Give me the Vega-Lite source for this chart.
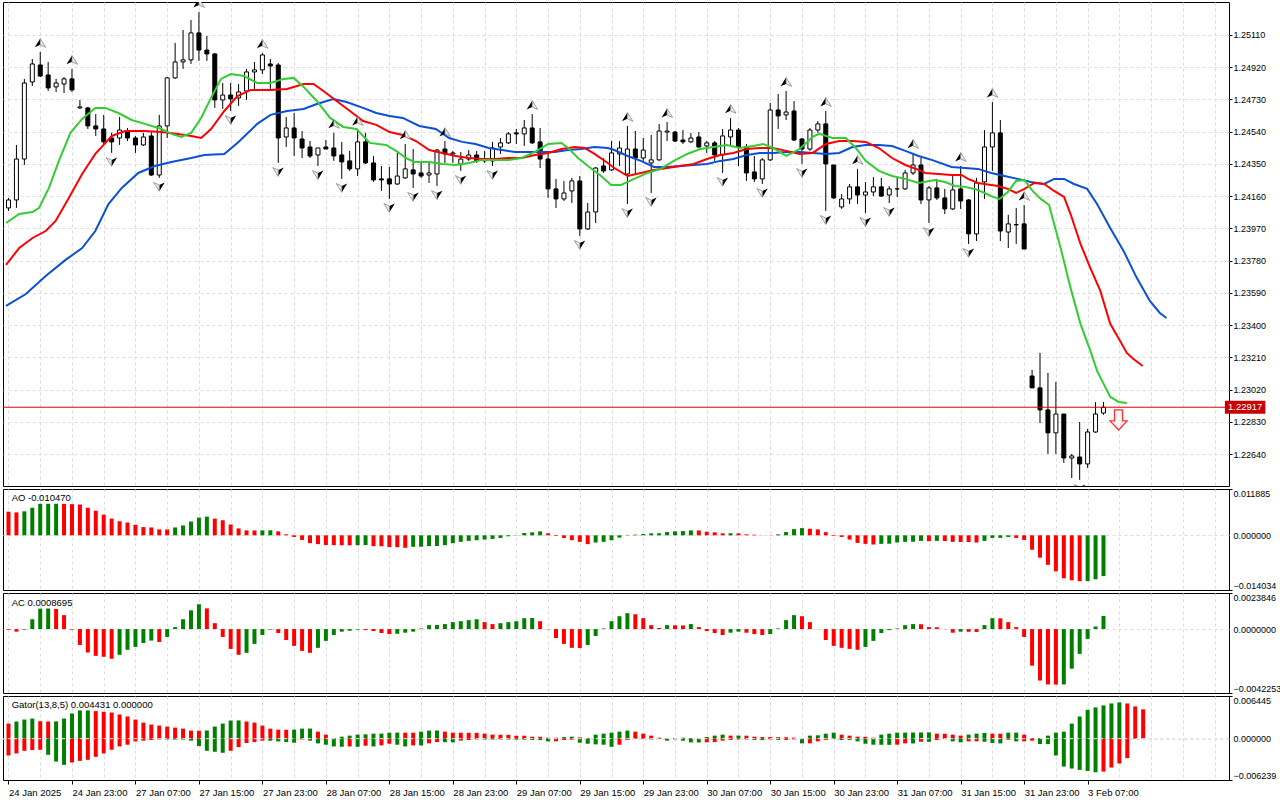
{
  "$schema": "https://vega.github.io/schema/vega-lite/v6.json",
  "background": "#ffffff",
  "padding": {"left": 2, "top": 1, "right": 0, "bottom": 0},
  "spacing": 3,
  "bounds": "flush",
  "resolve": {"scale": {"color": "independent"}},
  "config": {
    "view": {"stroke": "#000000", "strokeWidth": 1},
    "axis": {"labelFont": "Liberation Sans", "labelFontSize": 9, "labelColor": "#000000", "tickColor": "#000000", "tickSize": 3, "labelPadding": 1, "domain": false, "gridColor": "#dcdcdc", "gridDash": [3, 3], "gridWidth": 1, "labelOverlap": false},
    "text": {"font": "Liberation Sans", "fontSize": 9.5}
  },
  "datasets": {
    "candles": [
      {"i":0,"o":1.24091,"h":1.24150,"l":1.24073,"c":1.24138},
      {"i":1,"o":1.24138,"h":1.24462,"l":1.24091,"c":1.24379},
      {"i":2,"o":1.24379,"h":1.24851,"l":1.24344,"c":1.24827},
      {"i":3,"o":1.24833,"h":1.24968,"l":1.24809,"c":1.24939},
      {"i":4,"o":1.24933,"h":1.25010,"l":1.24862,"c":1.24868},
      {"i":5,"o":1.24874,"h":1.24951,"l":1.24780,"c":1.24798},
      {"i":6,"o":1.24804,"h":1.24851,"l":1.24774,"c":1.24827},
      {"i":7,"o":1.24821,"h":1.24862,"l":1.24768,"c":1.24851},
      {"i":8,"o":1.24851,"h":1.24910,"l":1.24774,"c":1.24786},
      {"i":9,"o":1.24680,"h":1.24727,"l":1.24674,"c":1.24686},
      {"i":10,"o":1.24680,"h":1.24686,"l":1.24556,"c":1.24574},
      {"i":11,"o":1.24574,"h":1.24644,"l":1.24515,"c":1.24556},
      {"i":12,"o":1.24556,"h":1.24639,"l":1.24468,"c":1.24480},
      {"i":13,"o":1.24503,"h":1.24533,"l":1.24415,"c":1.24480},
      {"i":14,"o":1.24503,"h":1.24627,"l":1.24462,"c":1.24550},
      {"i":15,"o":1.24544,"h":1.24562,"l":1.24485,"c":1.24503},
      {"i":16,"o":1.24503,"h":1.24515,"l":1.24415,"c":1.24462},
      {"i":17,"o":1.24462,"h":1.24533,"l":1.24456,"c":1.24509},
      {"i":18,"o":1.24515,"h":1.24538,"l":1.24279,"c":1.24285},
      {"i":19,"o":1.24285,"h":1.24639,"l":1.24268,"c":1.24574},
      {"i":20,"o":1.24574,"h":1.24862,"l":1.24503,"c":1.24857},
      {"i":21,"o":1.24857,"h":1.25063,"l":1.24851,"c":1.24951},
      {"i":22,"o":1.24951,"h":1.25139,"l":1.24910,"c":1.24963},
      {"i":23,"o":1.24963,"h":1.25198,"l":1.24939,"c":1.25122},
      {"i":24,"o":1.25122,"h":1.25245,"l":1.24957,"c":1.25021},
      {"i":25,"o":1.25021,"h":1.25104,"l":1.24957,"c":1.24998},
      {"i":26,"o":1.24998,"h":1.25004,"l":1.24680,"c":1.24727},
      {"i":27,"o":1.24727,"h":1.24827,"l":1.24674,"c":1.24756},
      {"i":28,"o":1.24756,"h":1.24827,"l":1.24662,"c":1.24733},
      {"i":29,"o":1.24739,"h":1.24821,"l":1.24692,"c":1.24774},
      {"i":30,"o":1.24780,"h":1.24910,"l":1.24727,"c":1.24892},
      {"i":31,"o":1.24892,"h":1.24951,"l":1.24792,"c":1.24904},
      {"i":32,"o":1.24904,"h":1.25004,"l":1.24880,"c":1.24992},
      {"i":33,"o":1.24939,"h":1.24968,"l":1.24792,"c":1.24927},
      {"i":34,"o":1.24933,"h":1.24945,"l":1.24356,"c":1.24503},
      {"i":35,"o":1.24509,"h":1.24627,"l":1.24450,"c":1.24562},
      {"i":36,"o":1.24562,"h":1.24650,"l":1.24397,"c":1.24503},
      {"i":37,"o":1.24497,"h":1.24544,"l":1.24385,"c":1.24444},
      {"i":38,"o":1.24450,"h":1.24485,"l":1.24385,"c":1.24397},
      {"i":39,"o":1.24403,"h":1.24444,"l":1.24338,"c":1.24444},
      {"i":40,"o":1.24450,"h":1.24491,"l":1.24438,"c":1.24438},
      {"i":41,"o":1.24444,"h":1.24533,"l":1.24368,"c":1.24397},
      {"i":42,"o":1.24403,"h":1.24480,"l":1.24262,"c":1.24362},
      {"i":43,"o":1.24368,"h":1.24427,"l":1.24309,"c":1.24321},
      {"i":44,"o":1.24321,"h":1.24550,"l":1.24279,"c":1.24480},
      {"i":45,"o":1.24480,"h":1.24533,"l":1.24350,"c":1.24356},
      {"i":46,"o":1.24356,"h":1.24397,"l":1.24244,"c":1.24256},
      {"i":47,"o":1.24262,"h":1.24338,"l":1.24191,"c":1.24256},
      {"i":48,"o":1.24262,"h":1.24332,"l":1.24144,"c":1.24232},
      {"i":49,"o":1.24232,"h":1.24415,"l":1.24226,"c":1.24279},
      {"i":50,"o":1.24268,"h":1.24468,"l":1.24262,"c":1.24321},
      {"i":51,"o":1.24315,"h":1.24438,"l":1.24209,"c":1.24291},
      {"i":52,"o":1.24297,"h":1.24368,"l":1.24268,"c":1.24279},
      {"i":53,"o":1.24285,"h":1.24368,"l":1.24238,"c":1.24297},
      {"i":54,"o":1.24291,"h":1.24438,"l":1.24220,"c":1.24432},
      {"i":55,"o":1.24438,"h":1.24485,"l":1.24356,"c":1.24409},
      {"i":56,"o":1.24409,"h":1.24427,"l":1.24356,"c":1.24415},
      {"i":57,"o":1.24350,"h":1.24421,"l":1.24309,"c":1.24379},
      {"i":58,"o":1.24379,"h":1.24432,"l":1.24368,"c":1.24403},
      {"i":59,"o":1.24403,"h":1.24427,"l":1.24356,"c":1.24368},
      {"i":60,"o":1.24368,"h":1.24427,"l":1.24356,"c":1.24379},
      {"i":61,"o":1.24368,"h":1.24480,"l":1.24338,"c":1.24444},
      {"i":62,"o":1.24450,"h":1.24503,"l":1.24409,"c":1.24474},
      {"i":63,"o":1.24474,"h":1.24538,"l":1.24468,"c":1.24527},
      {"i":64,"o":1.24533,"h":1.24556,"l":1.24468,"c":1.24527},
      {"i":65,"o":1.24527,"h":1.24609,"l":1.24456,"c":1.24562},
      {"i":66,"o":1.24562,"h":1.24644,"l":1.24468,"c":1.24474},
      {"i":67,"o":1.24480,"h":1.24562,"l":1.24326,"c":1.24379},
      {"i":68,"o":1.24379,"h":1.24427,"l":1.24150,"c":1.24203},
      {"i":69,"o":1.24203,"h":1.24262,"l":1.24091,"c":1.24144},
      {"i":70,"o":1.24144,"h":1.24250,"l":1.24132,"c":1.24179},
      {"i":71,"o":1.24191,"h":1.24268,"l":1.24120,"c":1.24250},
      {"i":72,"o":1.24250,"h":1.24279,"l":1.23926,"c":1.23967},
      {"i":73,"o":1.23967,"h":1.24120,"l":1.23961,"c":1.24067},
      {"i":74,"o":1.24067,"h":1.24332,"l":1.24002,"c":1.24326},
      {"i":75,"o":1.24338,"h":1.24385,"l":1.24297,"c":1.24309},
      {"i":76,"o":1.24315,"h":1.24485,"l":1.24309,"c":1.24415},
      {"i":77,"o":1.24409,"h":1.24485,"l":1.24338,"c":1.24444},
      {"i":78,"o":1.24291,"h":1.24574,"l":1.24114,"c":1.24438},
      {"i":79,"o":1.24438,"h":1.24544,"l":1.24291,"c":1.24385},
      {"i":80,"o":1.24385,"h":1.24503,"l":1.24368,"c":1.24432},
      {"i":81,"o":1.24356,"h":1.24521,"l":1.24179,"c":1.24374},
      {"i":82,"o":1.24374,"h":1.24586,"l":1.24368,"c":1.24544},
      {"i":83,"o":1.24538,"h":1.24597,"l":1.24485,"c":1.24544},
      {"i":84,"o":1.24538,"h":1.24544,"l":1.24480,"c":1.24485},
      {"i":85,"o":1.24491,"h":1.24550,"l":1.24468,"c":1.24480},
      {"i":86,"o":1.24480,"h":1.24533,"l":1.24474,"c":1.24503},
      {"i":87,"o":1.24509,"h":1.24538,"l":1.24444,"c":1.24450},
      {"i":88,"o":1.24456,"h":1.24485,"l":1.24415,"c":1.24474},
      {"i":89,"o":1.24474,"h":1.24485,"l":1.24368,"c":1.24403},
      {"i":90,"o":1.24403,"h":1.24556,"l":1.24297,"c":1.24515},
      {"i":91,"o":1.24509,"h":1.24621,"l":1.24456,"c":1.24550},
      {"i":92,"o":1.24550,"h":1.24562,"l":1.24338,"c":1.24450},
      {"i":93,"o":1.24450,"h":1.24468,"l":1.24250,"c":1.24297},
      {"i":94,"o":1.24303,"h":1.24397,"l":1.24244,"c":1.24262},
      {"i":95,"o":1.24262,"h":1.24385,"l":1.24232,"c":1.24374},
      {"i":96,"o":1.24374,"h":1.24709,"l":1.24368,"c":1.24668},
      {"i":97,"o":1.24668,"h":1.24762,"l":1.24556,"c":1.24633},
      {"i":98,"o":1.24639,"h":1.24780,"l":1.24609,"c":1.24656},
      {"i":99,"o":1.24662,"h":1.24721,"l":1.24485,"c":1.24491},
      {"i":100,"o":1.24497,"h":1.24503,"l":1.24350,"c":1.24438},
      {"i":101,"o":1.24438,"h":1.24562,"l":1.24427,"c":1.24550},
      {"i":102,"o":1.24550,"h":1.24603,"l":1.24533,"c":1.24586},
      {"i":103,"o":1.24586,"h":1.24662,"l":1.24073,"c":1.24350},
      {"i":104,"o":1.24344,"h":1.24344,"l":1.24144,"c":1.24150},
      {"i":105,"o":1.24097,"h":1.24173,"l":1.24085,"c":1.24144},
      {"i":106,"o":1.24144,"h":1.24232,"l":1.24114,"c":1.24215},
      {"i":107,"o":1.24215,"h":1.24321,"l":1.24114,"c":1.24167},
      {"i":108,"o":1.24167,"h":1.24244,"l":1.24061,"c":1.24185},
      {"i":109,"o":1.24185,"h":1.24273,"l":1.24161,"c":1.24215},
      {"i":110,"o":1.24215,"h":1.24268,"l":1.24156,"c":1.24161},
      {"i":111,"o":1.24167,"h":1.24220,"l":1.24120,"c":1.24203},
      {"i":112,"o":1.24203,"h":1.24268,"l":1.24156,"c":1.24203},
      {"i":113,"o":1.24203,"h":1.24315,"l":1.24197,"c":1.24297},
      {"i":114,"o":1.24297,"h":1.24415,"l":1.24285,"c":1.24344},
      {"i":115,"o":1.24344,"h":1.24385,"l":1.24114,"c":1.24138},
      {"i":116,"o":1.24138,"h":1.24220,"l":1.24002,"c":1.24209},
      {"i":117,"o":1.24209,"h":1.24262,"l":1.24138,"c":1.24150},
      {"i":118,"o":1.24150,"h":1.24203,"l":1.24055,"c":1.24085},
      {"i":119,"o":1.24085,"h":1.24291,"l":1.24079,"c":1.24197},
      {"i":120,"o":1.24203,"h":1.24338,"l":1.24085,"c":1.24132},
      {"i":121,"o":1.24138,"h":1.24144,"l":1.23879,"c":1.23938},
      {"i":122,"o":1.23938,"h":1.24268,"l":1.23896,"c":1.24238},
      {"i":123,"o":1.24244,"h":1.24550,"l":1.24144,"c":1.24450},
      {"i":124,"o":1.24450,"h":1.24715,"l":1.24309,"c":1.24533},
      {"i":125,"o":1.24533,"h":1.24609,"l":1.23896,"c":1.23955},
      {"i":126,"o":1.23949,"h":1.24050,"l":1.23855,"c":1.23997},
      {"i":127,"o":1.23991,"h":1.24091,"l":1.23879,"c":1.23993},
      {"i":128,"o":1.23997,"h":1.24108,"l":1.23849,"c":1.23849},
      {"i":129,"o":1.23101,"h":1.23137,"l":1.23031,"c":1.23031},
      {"i":130,"o":1.23031,"h":1.23237,"l":1.22824,"c":1.22901},
      {"i":131,"o":1.22901,"h":1.23119,"l":1.22642,"c":1.22766},
      {"i":132,"o":1.22766,"h":1.23066,"l":1.22642,"c":1.22877},
      {"i":133,"o":1.22877,"h":1.22877,"l":1.22589,"c":1.22618},
      {"i":134,"o":1.22618,"h":1.22642,"l":1.22500,"c":1.22630},
      {"i":135,"o":1.22624,"h":1.22830,"l":1.22489,"c":1.22583},
      {"i":136,"o":1.22583,"h":1.22789,"l":1.22559,"c":1.22771},
      {"i":137,"o":1.22771,"h":1.22948,"l":1.22766,"c":1.22877},
      {"i":138,"o":1.22883,"h":1.22948,"l":1.22872,"c":1.22917}
    ],
    "alligator": [
      {"s":"jaw","t":-0.31,"p":1.23514},{"s":"jaw","t":2.19,"p":1.23584},{"s":"jaw","t":4.69,"p":1.2369},{"s":"jaw","t":7.19,"p":1.23785},{"s":"jaw","t":9.28,"p":1.23855},{"s":"jaw","t":10.94,"p":1.23955},{"s":"jaw","t":12.6,"p":1.24114},{"s":"jaw","t":14.28,"p":1.24209},{"s":"jaw","t":16.35,"p":1.24297},{"s":"jaw","t":18.44,"p":1.24338},{"s":"jaw","t":20.53,"p":1.24362},{"s":"jaw","t":23.03,"p":1.24385},{"s":"jaw","t":24.69,"p":1.24403},{"s":"jaw","t":27.19,"p":1.24409},{"s":"jaw","t":28.85,"p":1.24474},{"s":"jaw","t":31.35,"p":1.24586},{"s":"jaw","t":33.03,"p":1.24639},{"s":"jaw","t":35.1,"p":1.24662},{"s":"jaw","t":37.19,"p":1.24674},{"s":"jaw","t":38.85,"p":1.24703},{"s":"jaw","t":40.94,"p":1.24733},{"s":"jaw","t":42.6,"p":1.24715},{"s":"jaw","t":44.69,"p":1.2468},{"s":"jaw","t":46.35,"p":1.2465},{"s":"jaw","t":48.03,"p":1.24633},{"s":"jaw","t":49.69,"p":1.24621},{"s":"jaw","t":51.78,"p":1.24574},{"s":"jaw","t":53.85,"p":1.24556},{"s":"jaw","t":55.53,"p":1.24503},{"s":"jaw","t":57.19,"p":1.2448},{"s":"jaw","t":58.85,"p":1.24468},{"s":"jaw","t":60.53,"p":1.24444},{"s":"jaw","t":62.19,"p":1.24432},{"s":"jaw","t":63.85,"p":1.24421},{"s":"jaw","t":65.53,"p":1.24421},{"s":"jaw","t":67.19,"p":1.24421},{"s":"jaw","t":68.85,"p":1.24421},{"s":"jaw","t":70.53,"p":1.24432},{"s":"jaw","t":72.19,"p":1.24438},{"s":"jaw","t":73.85,"p":1.2445},{"s":"jaw","t":75.53,"p":1.24444},{"s":"jaw","t":76.35,"p":1.24432},{"s":"jaw","t":78.03,"p":1.24397},{"s":"jaw","t":79.69,"p":1.24368},{"s":"jaw","t":81.35,"p":1.24332},{"s":"jaw","t":83.03,"p":1.24332},{"s":"jaw","t":84.69,"p":1.24338},{"s":"jaw","t":86.35,"p":1.24344},{"s":"jaw","t":88.03,"p":1.2435},{"s":"jaw","t":89.69,"p":1.24368},{"s":"jaw","t":91.35,"p":1.24379},{"s":"jaw","t":93.03,"p":1.24403},{"s":"jaw","t":94.69,"p":1.24415},{"s":"jaw","t":96.35,"p":1.24415},{"s":"jaw","t":98.03,"p":1.24421},{"s":"jaw","t":99.69,"p":1.24421},{"s":"jaw","t":101.35,"p":1.24415},{"s":"jaw","t":103.03,"p":1.24409},{"s":"jaw","t":104.69,"p":1.24415},{"s":"jaw","t":106.35,"p":1.2445},{"s":"jaw","t":108.03,"p":1.24462},{"s":"jaw","t":109.69,"p":1.24462},{"s":"jaw","t":111.35,"p":1.24456},{"s":"jaw","t":113.03,"p":1.24427},{"s":"jaw","t":114.69,"p":1.24397},{"s":"jaw","t":116.35,"p":1.24374},{"s":"jaw","t":118.85,"p":1.24332},{"s":"jaw","t":120.53,"p":1.24326},{"s":"jaw","t":122.19,"p":1.24321},{"s":"jaw","t":123.85,"p":1.24297},{"s":"jaw","t":125.53,"p":1.24279},{"s":"jaw","t":127.19,"p":1.24262},{"s":"jaw","t":128.85,"p":1.24244},{"s":"jaw","t":130.53,"p":1.24232},{"s":"jaw","t":131.78,"p":1.24262},{"s":"jaw","t":133.03,"p":1.24262},{"s":"jaw","t":134.28,"p":1.24232},{"s":"jaw","t":135.94,"p":1.24203},{"s":"jaw","t":137.19,"p":1.24114},{"s":"jaw","t":138.85,"p":1.23973},{"s":"jaw","t":140.53,"p":1.23838},{"s":"jaw","t":142.19,"p":1.23679},{"s":"jaw","t":143.85,"p":1.23543},{"s":"jaw","t":145.1,"p":1.23472},{"s":"jaw","t":145.94,"p":1.23443},
      {"s":"teeth","t":-0.31,"p":1.23755},{"s":"teeth","t":1.35,"p":1.23855},{"s":"teeth","t":3.03,"p":1.23914},{"s":"teeth","t":4.69,"p":1.23955},{"s":"teeth","t":5.94,"p":1.24014},{"s":"teeth","t":7.6,"p":1.2415},{"s":"teeth","t":9.28,"p":1.24291},{"s":"teeth","t":10.94,"p":1.24409},{"s":"teeth","t":13.03,"p":1.24515},{"s":"teeth","t":14.69,"p":1.24544},{"s":"teeth","t":17.19,"p":1.24544},{"s":"teeth","t":19.28,"p":1.24538},{"s":"teeth","t":21.35,"p":1.24527},{"s":"teeth","t":23.03,"p":1.24515},{"s":"teeth","t":24.28,"p":1.24503},{"s":"teeth","t":25.53,"p":1.24556},{"s":"teeth","t":27.19,"p":1.24662},{"s":"teeth","t":28.85,"p":1.2475},{"s":"teeth","t":30.53,"p":1.24786},{"s":"teeth","t":33.03,"p":1.24786},{"s":"teeth","t":35.1,"p":1.24792},{"s":"teeth","t":37.19,"p":1.24821},{"s":"teeth","t":38.44,"p":1.24821},{"s":"teeth","t":39.69,"p":1.2478},{"s":"teeth","t":41.35,"p":1.24721},{"s":"teeth","t":43.03,"p":1.24662},{"s":"teeth","t":44.69,"p":1.24603},{"s":"teeth","t":46.35,"p":1.2458},{"s":"teeth","t":48.03,"p":1.24538},{"s":"teeth","t":49.69,"p":1.24521},{"s":"teeth","t":51.35,"p":1.24485},{"s":"teeth","t":53.03,"p":1.24432},{"s":"teeth","t":54.69,"p":1.24415},{"s":"teeth","t":56.35,"p":1.24397},{"s":"teeth","t":58.03,"p":1.24385},{"s":"teeth","t":59.69,"p":1.24379},{"s":"teeth","t":61.35,"p":1.24379},{"s":"teeth","t":63.03,"p":1.24385},{"s":"teeth","t":64.69,"p":1.24385},{"s":"teeth","t":66.35,"p":1.24403},{"s":"teeth","t":68.03,"p":1.24415},{"s":"teeth","t":69.69,"p":1.24438},{"s":"teeth","t":71.35,"p":1.2445},{"s":"teeth","t":72.6,"p":1.24444},{"s":"teeth","t":73.85,"p":1.24409},{"s":"teeth","t":75.53,"p":1.24356},{"s":"teeth","t":76.35,"p":1.24326},{"s":"teeth","t":78.03,"p":1.24279},{"s":"teeth","t":79.69,"p":1.24297},{"s":"teeth","t":81.35,"p":1.24315},{"s":"teeth","t":83.03,"p":1.24326},{"s":"teeth","t":84.69,"p":1.24338},{"s":"teeth","t":86.35,"p":1.2435},{"s":"teeth","t":88.03,"p":1.24379},{"s":"teeth","t":89.69,"p":1.24403},{"s":"teeth","t":91.35,"p":1.24415},{"s":"teeth","t":93.03,"p":1.24438},{"s":"teeth","t":94.69,"p":1.24444},{"s":"teeth","t":96.35,"p":1.24444},{"s":"teeth","t":98.03,"p":1.24427},{"s":"teeth","t":99.69,"p":1.24409},{"s":"teeth","t":101.35,"p":1.24415},{"s":"teeth","t":103.03,"p":1.24468},{"s":"teeth","t":104.69,"p":1.24485},{"s":"teeth","t":106.35,"p":1.24485},{"s":"teeth","t":108.03,"p":1.2448},{"s":"teeth","t":109.69,"p":1.24444},{"s":"teeth","t":111.35,"p":1.24385},{"s":"teeth","t":113.03,"p":1.24344},{"s":"teeth","t":114.69,"p":1.24315},{"s":"teeth","t":115.53,"p":1.24297},{"s":"teeth","t":117.19,"p":1.24291},{"s":"teeth","t":118.85,"p":1.24285},{"s":"teeth","t":120.1,"p":1.24285},{"s":"teeth","t":120.94,"p":1.24262},{"s":"teeth","t":122.19,"p":1.24238},{"s":"teeth","t":123.85,"p":1.24226},{"s":"teeth","t":124.69,"p":1.2422},{"s":"teeth","t":125.94,"p":1.24203},{"s":"teeth","t":126.98,"p":1.24179},{"s":"teeth","t":128.03,"p":1.24203},{"s":"teeth","t":129.28,"p":1.24238},{"s":"teeth","t":130.53,"p":1.24232},{"s":"teeth","t":131.78,"p":1.24191},{"s":"teeth","t":133.03,"p":1.24156},{"s":"teeth","t":133.85,"p":1.24055},{"s":"teeth","t":135.1,"p":1.23879},{"s":"teeth","t":136.35,"p":1.23737},{"s":"teeth","t":137.6,"p":1.23602},{"s":"teeth","t":138.85,"p":1.23408},{"s":"teeth","t":140.1,"p":1.23307},{"s":"teeth","t":140.94,"p":1.23237},{"s":"teeth","t":141.78,"p":1.23201},{"s":"teeth","t":142.94,"p":1.2316},
      {"s":"lips","t":-0.31,"p":1.24002},{"s":"lips","t":1.35,"p":1.24055},{"s":"lips","t":3.03,"p":1.24067},{"s":"lips","t":3.85,"p":1.24091},{"s":"lips","t":5.1,"p":1.24209},{"s":"lips","t":6.35,"p":1.24368},{"s":"lips","t":7.81,"p":1.24533},{"s":"lips","t":9.28,"p":1.24615},{"s":"lips","t":10.94,"p":1.2468},{"s":"lips","t":12.19,"p":1.2468},{"s":"lips","t":13.85,"p":1.2465},{"s":"lips","t":15.53,"p":1.24609},{"s":"lips","t":17.19,"p":1.24586},{"s":"lips","t":19.28,"p":1.24556},{"s":"lips","t":20.53,"p":1.24527},{"s":"lips","t":21.78,"p":1.24509},{"s":"lips","t":23.03,"p":1.24533},{"s":"lips","t":24.28,"p":1.24621},{"s":"lips","t":25.53,"p":1.24739},{"s":"lips","t":26.78,"p":1.24851},{"s":"lips","t":28.03,"p":1.2488},{"s":"lips","t":29.69,"p":1.24868},{"s":"lips","t":31.35,"p":1.24827},{"s":"lips","t":33.03,"p":1.24827},{"s":"lips","t":34.69,"p":1.24851},{"s":"lips","t":35.94,"p":1.24857},{"s":"lips","t":37.19,"p":1.24804},{"s":"lips","t":38.85,"p":1.24721},{"s":"lips","t":40.53,"p":1.24621},{"s":"lips","t":42.19,"p":1.24568},{"s":"lips","t":43.85,"p":1.24556},{"s":"lips","t":45.53,"p":1.24474},{"s":"lips","t":47.6,"p":1.24462},{"s":"lips","t":48.85,"p":1.24427},{"s":"lips","t":50.1,"p":1.24385},{"s":"lips","t":51.15,"p":1.24362},{"s":"lips","t":53.03,"p":1.24362},{"s":"lips","t":54.69,"p":1.2435},{"s":"lips","t":56.35,"p":1.24344},{"s":"lips","t":58.03,"p":1.24356},{"s":"lips","t":59.69,"p":1.24374},{"s":"lips","t":61.35,"p":1.24374},{"s":"lips","t":63.03,"p":1.24374},{"s":"lips","t":64.69,"p":1.24385},{"s":"lips","t":66.35,"p":1.24421},{"s":"lips","t":68.03,"p":1.24468},{"s":"lips","t":69.69,"p":1.24474},{"s":"lips","t":70.53,"p":1.24444},{"s":"lips","t":71.78,"p":1.24385},{"s":"lips","t":73.03,"p":1.24338},{"s":"lips","t":74.69,"p":1.24279},{"s":"lips","t":75.94,"p":1.24226},{"s":"lips","t":77.19,"p":1.24226},{"s":"lips","t":78.85,"p":1.24262},{"s":"lips","t":80.53,"p":1.24297},{"s":"lips","t":82.19,"p":1.24321},{"s":"lips","t":83.85,"p":1.24368},{"s":"lips","t":85.53,"p":1.24409},{"s":"lips","t":87.19,"p":1.24438},{"s":"lips","t":88.85,"p":1.2445},{"s":"lips","t":90.53,"p":1.24462},{"s":"lips","t":92.19,"p":1.24444},{"s":"lips","t":93.85,"p":1.24456},{"s":"lips","t":95.1,"p":1.24468},{"s":"lips","t":96.35,"p":1.24444},{"s":"lips","t":98.03,"p":1.24397},{"s":"lips","t":99.69,"p":1.24438},{"s":"lips","t":101.35,"p":1.24509},{"s":"lips","t":102.19,"p":1.24527},{"s":"lips","t":103.85,"p":1.24503},{"s":"lips","t":105.53,"p":1.24503},{"s":"lips","t":106.78,"p":1.24444},{"s":"lips","t":108.03,"p":1.24368},{"s":"lips","t":109.69,"p":1.24309},{"s":"lips","t":111.35,"p":1.24279},{"s":"lips","t":113.03,"p":1.24262},{"s":"lips","t":114.69,"p":1.24238},{"s":"lips","t":116.78,"p":1.24256},{"s":"lips","t":118.03,"p":1.24244},{"s":"lips","t":119.28,"p":1.2422},{"s":"lips","t":120.53,"p":1.24215},{"s":"lips","t":121.78,"p":1.24203},{"s":"lips","t":123.03,"p":1.24179},{"s":"lips","t":124.06,"p":1.24156},{"s":"lips","t":124.9,"p":1.24144},{"s":"lips","t":125.94,"p":1.24185},{"s":"lips","t":126.98,"p":1.2425},{"s":"lips","t":128.03,"p":1.24256},{"s":"lips","t":129.06,"p":1.24191},{"s":"lips","t":130.1,"p":1.24144},{"s":"lips","t":131.15,"p":1.24108},{"s":"lips","t":131.78,"p":1.23997},{"s":"lips","t":132.6,"p":1.23855},{"s":"lips","t":133.85,"p":1.2362},{"s":"lips","t":135.1,"p":1.23408},{"s":"lips","t":136.35,"p":1.23249},{"s":"lips","t":137.19,"p":1.23131},{"s":"lips","t":138.85,"p":1.22978},{"s":"lips","t":139.9,"p":1.22948},{"s":"lips","t":140.94,"p":1.22942}
    ],
    "fractals": [
      {"i":4,"k":"up","p":1.2501},{"i":8,"k":"up","p":1.2491},{"i":24,"k":"up","p":1.25245},{"i":32,"k":"up","p":1.25004},{"i":41,"k":"up","p":1.24533},{"i":44,"k":"up","p":1.2455},{"i":50,"k":"up","p":1.24468},{"i":55,"k":"up","p":1.24485},{"i":66,"k":"up","p":1.24644},{"i":78,"k":"up","p":1.24574},{"i":83,"k":"up","p":1.24597},{"i":91,"k":"up","p":1.24621},{"i":98,"k":"up","p":1.2478},{"i":103,"k":"up","p":1.24662},{"i":107,"k":"up","p":1.24321},{"i":114,"k":"up","p":1.24415},{"i":120,"k":"up","p":1.24338},{"i":124,"k":"up","p":1.24715},{"i":128,"k":"up","p":1.24108},
      {"i":13,"k":"down","p":1.24415},{"i":19,"k":"down","p":1.24268},{"i":28,"k":"down","p":1.24662},{"i":34,"k":"down","p":1.24356},{"i":39,"k":"down","p":1.24338},{"i":42,"k":"down","p":1.24262},{"i":48,"k":"down","p":1.24144},{"i":51,"k":"down","p":1.24209},{"i":54,"k":"down","p":1.2422},{"i":57,"k":"down","p":1.24309},{"i":61,"k":"down","p":1.24338},{"i":72,"k":"down","p":1.23926},{"i":78,"k":"down","p":1.24114},{"i":81,"k":"down","p":1.24179},{"i":90,"k":"down","p":1.24297},{"i":95,"k":"down","p":1.24232},{"i":100,"k":"down","p":1.2435},{"i":103,"k":"down","p":1.24073},{"i":108,"k":"down","p":1.24061},{"i":111,"k":"down","p":1.2412},{"i":116,"k":"down","p":1.24002},{"i":121,"k":"down","p":1.23879},{"i":135,"k":"down","p":1.22489}
    ],
    "ao": [
      {"i":0,"v":0.00606},{"i":1,"v":0.00589},{"i":2,"v":0.00615},{"i":3,"v":0.00707},{"i":4,"v":0.00808},{"i":5,"v":0.00809},{"i":6,"v":0.0081},{"i":7,"v":0.00806},{"i":8,"v":0.008},{"i":9,"v":0.0079},{"i":10,"v":0.00707},{"i":11,"v":0.00632},{"i":12,"v":0.0053},{"i":13,"v":0.00429},{"i":14,"v":0.00362},{"i":15,"v":0.00328},{"i":16,"v":0.00269},{"i":17,"v":0.00211},{"i":18,"v":0.00202},{"i":19,"v":0.00152},{"i":20,"v":0.0015},{"i":21,"v":0.00202},{"i":22,"v":0.00253},{"i":23,"v":0.00354},{"i":24,"v":0.00455},{"i":25,"v":0.0048},{"i":26,"v":0.00429},{"i":27,"v":0.00387},{"i":28,"v":0.00278},{"i":29,"v":0.00177},{"i":30,"v":0.00126},{"i":31,"v":0.00124},{"i":32,"v":0.00127},{"i":33,"v":0.00129},{"i":34,"v":0.00101},{"i":35,"v":0.00025},{"i":36,"v":-0.00042},{"i":37,"v":-0.00118},{"i":38,"v":-0.00202},{"i":39,"v":-0.00227},{"i":40,"v":-0.0025},{"i":41,"v":-0.00253},{"i":42,"v":-0.00255},{"i":43,"v":-0.00257},{"i":44,"v":-0.00254},{"i":45,"v":-0.00251},{"i":46,"v":-0.00278},{"i":47,"v":-0.0028},{"i":48,"v":-0.00303},{"i":49,"v":-0.00305},{"i":50,"v":-0.0032},{"i":51,"v":-0.00295},{"i":52,"v":-0.00293},{"i":53,"v":-0.00278},{"i":54,"v":-0.00276},{"i":55,"v":-0.00253},{"i":56,"v":-0.00202},{"i":57,"v":-0.00168},{"i":58,"v":-0.00143},{"i":59,"v":-0.00126},{"i":60,"v":-0.00109},{"i":61,"v":-0.00093},{"i":62,"v":-0.00067},{"i":63,"v":-0.00025},{"i":64,"v":-0.00008},{"i":65,"v":0.00059},{"i":66,"v":0.00076},{"i":67,"v":0.00101},{"i":68,"v":0.00051},{"i":69,"v":-0.00017},{"i":70,"v":-0.00067},{"i":71,"v":-0.00126},{"i":72,"v":-0.00168},{"i":73,"v":-0.00227},{"i":74,"v":-0.00185},{"i":75,"v":-0.00168},{"i":76,"v":-0.00126},{"i":77,"v":-0.00059},{"i":78,"v":-0.00008},{"i":79,"v":0.00017},{"i":80,"v":0.00034},{"i":81,"v":0.00051},{"i":82,"v":0.00053},{"i":83,"v":0.00084},{"i":84,"v":0.00101},{"i":85,"v":0.00109},{"i":86,"v":0.00126},{"i":87,"v":0.00124},{"i":88,"v":0.00093},{"i":89,"v":0.00076},{"i":90,"v":0.00051},{"i":91,"v":0.00053},{"i":92,"v":0.0005},{"i":93,"v":0.00025},{"i":94,"v":0.00017},{"i":95,"v":0.00003},{"i":96,"v":-0.00004},{"i":97,"v":0.00025},{"i":98,"v":0.00084},{"i":99,"v":0.0016},{"i":100,"v":0.00185},{"i":101,"v":0.00168},{"i":102,"v":0.00152},{"i":103,"v":0.0008},{"i":104,"v":-0.00017},{"i":105,"v":-0.00042},{"i":106,"v":-0.00109},{"i":107,"v":-0.00194},{"i":108,"v":-0.00219},{"i":109,"v":-0.00236},{"i":110,"v":-0.00219},{"i":111,"v":-0.00216},{"i":112,"v":-0.00185},{"i":113,"v":-0.00168},{"i":114,"v":-0.00165},{"i":115,"v":-0.00143},{"i":116,"v":-0.00152},{"i":117,"v":-0.00143},{"i":118,"v":-0.00146},{"i":119,"v":-0.00168},{"i":120,"v":-0.0017},{"i":121,"v":-0.00172},{"i":122,"v":-0.00185},{"i":123,"v":-0.00143},{"i":124,"v":-0.00067},{"i":125,"v":-0.00065},{"i":126,"v":-0.00042},{"i":127,"v":-0.00067},{"i":128,"v":-0.00118},{"i":129,"v":-0.0037},{"i":130,"v":-0.00573},{"i":131,"v":-0.00758},{"i":132,"v":-0.00926},{"i":133,"v":-0.01103},{"i":134,"v":-0.01154},{"i":135,"v":-0.01179},{"i":136,"v":-0.01175},{"i":137,"v":-0.01128},{"i":138,"v":-0.01047}
    ],
    "ac": [
      {"i":0,"v":-0.00005},{"i":1,"v":-0.00017},{"i":2,"v":-0.00004},{"i":3,"v":0.00065},{"i":4,"v":0.00135},{"i":5,"v":0.00136},{"i":6,"v":0.00133},{"i":7,"v":0.00092},{"i":8,"v":-0.00004},{"i":9,"v":-0.00105},{"i":10,"v":-0.00155},{"i":11,"v":-0.00177},{"i":12,"v":-0.00183},{"i":13,"v":-0.00196},{"i":14,"v":-0.0017},{"i":15,"v":-0.00137},{"i":16,"v":-0.00118},{"i":17,"v":-0.00092},{"i":18,"v":-0.00076},{"i":19,"v":-0.00085},{"i":20,"v":-0.00052},{"i":21,"v":0.00013},{"i":22,"v":0.00065},{"i":23,"v":0.00124},{"i":24,"v":0.00164},{"i":25,"v":0.00137},{"i":26,"v":0.00039},{"i":27,"v":-0.00052},{"i":28,"v":-0.00131},{"i":29,"v":-0.0017},{"i":30,"v":-0.00157},{"i":31,"v":-0.00098},{"i":32,"v":-0.00039},{"i":33,"v":-0.00004},{"i":34,"v":-0.00026},{"i":35,"v":-0.00072},{"i":36,"v":-0.00111},{"i":37,"v":-0.00144},{"i":38,"v":-0.00157},{"i":39,"v":-0.00124},{"i":40,"v":-0.00078},{"i":41,"v":-0.00039},{"i":42,"v":-0.00017},{"i":43,"v":-0.00011},{"i":44,"v":-0.00004},{"i":45,"v":-0.00007},{"i":46,"v":-0.00013},{"i":47,"v":-0.00026},{"i":48,"v":-0.00033},{"i":49,"v":-0.00031},{"i":50,"v":-0.00024},{"i":51,"v":-0.00017},{"i":52,"v":0.00004},{"i":53,"v":0.00026},{"i":54,"v":0.00027},{"i":55,"v":0.00033},{"i":56,"v":0.00046},{"i":57,"v":0.00052},{"i":58,"v":0.00059},{"i":59,"v":0.00065},{"i":60,"v":0.00046},{"i":61,"v":0.00033},{"i":62,"v":0.00039},{"i":63,"v":0.00046},{"i":64,"v":0.00052},{"i":65,"v":0.00072},{"i":66,"v":0.00073},{"i":67,"v":0.00052},{"i":68,"v":-0.00002},{"i":69,"v":-0.00059},{"i":70,"v":-0.00098},{"i":71,"v":-0.00124},{"i":72,"v":-0.00125},{"i":73,"v":-0.00105},{"i":74,"v":-0.00046},{"i":75,"v":0.00004},{"i":76,"v":0.00052},{"i":77,"v":0.00085},{"i":78,"v":0.00105},{"i":79,"v":0.00098},{"i":80,"v":0.00072},{"i":81,"v":0.00026},{"i":82,"v":0.00007},{"i":83,"v":0.00026},{"i":84,"v":0.00025},{"i":85,"v":0.00024},{"i":86,"v":0.00033},{"i":87,"v":0.00013},{"i":88,"v":-0.00013},{"i":89,"v":-0.00026},{"i":90,"v":-0.00039},{"i":91,"v":-0.00024},{"i":92,"v":-0.00017},{"i":93,"v":-0.00024},{"i":94,"v":-0.00033},{"i":95,"v":-0.00039},{"i":96,"v":-0.00033},{"i":97,"v":0.00004},{"i":98,"v":0.00059},{"i":99,"v":0.00092},{"i":100,"v":0.00085},{"i":101,"v":0.00046},{"i":102,"v":-0.00001},{"i":103,"v":-0.00072},{"i":104,"v":-0.00111},{"i":105,"v":-0.00124},{"i":106,"v":-0.00131},{"i":107,"v":-0.00137},{"i":108,"v":-0.00118},{"i":109,"v":-0.00078},{"i":110,"v":-0.00026},{"i":111,"v":-0.00007},{"i":112,"v":0.00004},{"i":113,"v":0.00026},{"i":114,"v":0.00033},{"i":115,"v":0.00032},{"i":116,"v":0.00013},{"i":117,"v":0.00012},{"i":118,"v":-0.00001},{"i":119,"v":-0.00024},{"i":120,"v":-0.00017},{"i":121,"v":-0.00018},{"i":122,"v":-0.00019},{"i":123,"v":0.00026},{"i":124,"v":0.00072},{"i":125,"v":0.00071},{"i":126,"v":0.00046},{"i":127,"v":0.00013},{"i":128,"v":-0.00052},{"i":129,"v":-0.00242},{"i":130,"v":-0.0034},{"i":131,"v":-0.00366},{"i":132,"v":-0.00367},{"i":133,"v":-0.00366},{"i":134,"v":-0.00262},{"i":135,"v":-0.00164},{"i":136,"v":-0.00065},{"i":137,"v":0.00017},{"i":138,"v":0.0008695}
    ],
    "gator": [
      {"i":0,"u":0.00228,"d":-0.00254},{"i":1,"u":0.00259,"d":-0.00223},{"i":2,"u":0.00289,"d":-0.00183},{"i":3,"u":0.00304,"d":-0.00172},{"i":4,"u":0.00264,"d":-0.00167},{"i":5,"u":0.00259,"d":-0.00243},{"i":6,"u":0.00261,"d":-0.00345},{"i":7,"u":0.00304,"d":-0.00395},{"i":8,"u":0.0038,"d":-0.0036},{"i":9,"u":0.00426,"d":-0.00335},{"i":10,"u":0.00427,"d":-0.00319},{"i":11,"u":0.00416,"d":-0.00274},{"i":12,"u":0.00406,"d":-0.00223},{"i":13,"u":0.00395,"d":-0.00167},{"i":14,"u":0.00365,"d":-0.00117},{"i":15,"u":0.00335,"d":-0.00091},{"i":16,"u":0.00289,"d":-0.00041},{"i":17,"u":0.00243,"d":-0.0003},{"i":18,"u":0.00213,"d":-0.0002},{"i":19,"u":0.00198,"d":-0.0001},{"i":20,"u":0.00183,"d":-0.00011},{"i":21,"u":0.00167,"d":-0.00012},{"i":22,"u":0.00152,"d":-0.00013},{"i":23,"u":0.00122,"d":-0.0003},{"i":24,"u":0.0012,"d":-0.00112},{"i":25,"u":0.00124,"d":-0.00183},{"i":26,"u":0.00183,"d":-0.00198},{"i":27,"u":0.00228,"d":-0.00213},{"i":28,"u":0.00274,"d":-0.00183},{"i":29,"u":0.00276,"d":-0.00127},{"i":30,"u":0.00259,"d":-0.00066},{"i":31,"u":0.00243,"d":-0.00051},{"i":32,"u":0.00198,"d":-0.0003},{"i":33,"u":0.00152,"d":-0.00031},{"i":34,"u":0.00137,"d":-0.00041},{"i":35,"u":0.00135,"d":-0.00051},{"i":36,"u":0.00137,"d":-0.00061},{"i":37,"u":0.00152,"d":-0.0001},{"i":38,"u":0.00153,"d":-0.0003},{"i":39,"u":0.00106,"d":-0.00071},{"i":40,"u":0.00061,"d":-0.00091},{"i":41,"u":0.0001,"d":-0.00117},{"i":42,"u":0.0003,"d":-0.00122},{"i":43,"u":0.00046,"d":-0.00117},{"i":44,"u":0.00061,"d":-0.00122},{"i":45,"u":0.00066,"d":-0.00106},{"i":46,"u":0.00076,"d":-0.00117},{"i":47,"u":0.00077,"d":-0.00101},{"i":48,"u":0.00091,"d":-0.00076},{"i":49,"u":0.00092,"d":-0.00091},{"i":50,"u":0.00091,"d":-0.00117},{"i":51,"u":0.0009,"d":-0.00101},{"i":52,"u":0.00106,"d":-0.00102},{"i":53,"u":0.00122,"d":-0.00071},{"i":54,"u":0.00123,"d":-0.00051},{"i":55,"u":0.00106,"d":-0.00052},{"i":56,"u":0.00091,"d":-0.00056},{"i":57,"u":0.0009,"d":-0.0003},{"i":58,"u":0.00089,"d":-0.0002},{"i":59,"u":0.00088,"d":-0.0001},{"i":60,"u":0.00076,"d":-0.00011},{"i":61,"u":0.00061,"d":-0.00012},{"i":62,"u":0.0006,"d":-0.00011},{"i":63,"u":0.00059,"d":-0.00012},{"i":64,"u":0.00046,"d":-0.00013},{"i":65,"u":0.00045,"d":-0.00015},{"i":66,"u":0.0003,"d":-0.0002},{"i":67,"u":0.00029,"d":-0.00021},{"i":68,"u":0.00015,"d":-0.00041},{"i":69,"u":0.00014,"d":-0.0004},{"i":70,"u":0.00025,"d":-0.0002},{"i":71,"u":0.0003,"d":-0.00015},{"i":72,"u":0.0002,"d":-0.00061},{"i":73,"u":0.0001,"d":-0.00076},{"i":74,"u":0.00061,"d":-0.00086},{"i":75,"u":0.00076,"d":-0.00091},{"i":76,"u":0.00091,"d":-0.00122},{"i":77,"u":0.00106,"d":-0.00091},{"i":78,"u":0.00122,"d":-0.0002},{"i":79,"u":0.00106,"d":-0.00005},{"i":80,"u":0.00076,"d":-0.00002},{"i":81,"u":0.00046,"d":-0.0001},{"i":82,"u":0.00015,"d":-0.00005},{"i":83,"u":0.00002,"d":-0.0003},{"i":84,"u":0.0001,"d":-0.0001},{"i":85,"u":0.00015,"d":-0.00031},{"i":86,"u":0.0001,"d":-0.00056},{"i":87,"u":0.00005,"d":-0.00057},{"i":88,"u":0.00025,"d":-0.00055},{"i":89,"u":0.00046,"d":-0.00051},{"i":90,"u":0.00061,"d":-0.0003},{"i":91,"u":0.00046,"d":-0.0002},{"i":92,"u":0.00047,"d":-0.0001},{"i":93,"u":0.00045,"d":-0.00011},{"i":94,"u":0.0003,"d":-0.0002},{"i":95,"u":0.00025,"d":-0.00021},{"i":96,"u":0.00024,"d":-0.0001},{"i":97,"u":0.00023,"d":-0.0002},{"i":98,"u":0.00022,"d":-0.00019},{"i":99,"u":0.00015,"d":-0.0001},{"i":100,"u":0.00002,"d":-0.00071},{"i":101,"u":0.00046,"d":-0.0007},{"i":102,"u":0.00051,"d":-0.00041},{"i":103,"u":0.00076,"d":-0.0002},{"i":104,"u":0.00091,"d":-0.00001},{"i":105,"u":0.00061,"d":-0.0002},{"i":106,"u":0.00046,"d":-0.00021},{"i":107,"u":0.0003,"d":-0.00041},{"i":108,"u":0.00029,"d":-0.00076},{"i":109,"u":0.00015,"d":-0.00091},{"i":110,"u":0.00061,"d":-0.00092},{"i":111,"u":0.00076,"d":-0.00093},{"i":112,"u":0.00091,"d":-0.00091},{"i":113,"u":0.00092,"d":-0.00071},{"i":114,"u":0.00093,"d":-0.00072},{"i":115,"u":0.00094,"d":-0.00046},{"i":116,"u":0.00095,"d":-0.00047},{"i":117,"u":0.00076,"d":-0.0002},{"i":118,"u":0.00075,"d":-0.00005},{"i":119,"u":0.00061,"d":-0.00041},{"i":120,"u":0.00046,"d":-0.00056},{"i":121,"u":0.00061,"d":-0.00041},{"i":122,"u":0.00076,"d":-0.0004},{"i":123,"u":0.00086,"d":-0.00046},{"i":124,"u":0.00076,"d":-0.00066},{"i":125,"u":0.00075,"d":-0.00071},{"i":126,"u":0.00091,"d":-0.00015},{"i":127,"u":0.00092,"d":-0.00041},{"i":128,"u":0.00061,"d":-0.0004},{"i":129,"u":0.0001,"d":-0.0003},{"i":130,"u":0.00011,"d":-0.00081},{"i":131,"u":0.00046,"d":-0.00082},{"i":132,"u":0.00091,"d":-0.00254},{"i":133,"u":0.00106,"d":-0.00421},{"i":134,"u":0.00228,"d":-0.00451},{"i":135,"u":0.00335,"d":-0.00472},{"i":136,"u":0.00436,"d":-0.00487},{"i":137,"u":0.00472,"d":-0.00507},{"i":138,"u":0.00502,"d":-0.00497},{"i":139,"u":0.00532,"d":-0.00436},{"i":140,"u":0.00548,"d":-0.00375},{"i":141,"u":0.00532,"d":-0.00294},{"i":142,"u":0.00487,"d":0},{"i":143,"u":0.004431,"d":null}
    ]
  },
  "vconcat": [
    {
      "width": 1226,
      "height": 484,
      "layer": [
        {
          "data": {"name": "candles"},
          "mark": {"type": "rule", "color": "#000000", "strokeWidth": 1, "clip": true},
          "encoding": {
            "x": {"field": "i", "type": "quantitative", "scale": {"domain": [-0.0625, 153.1875], "nice": false, "zero": false},
                  "axis": {"title": null, "tickCount": 60, "values": [0,4,8,12,16,20,24,28,32,36,40,44,48,52,56,60,64,68,72,76,80,84,88,92,96,100,104,108,112,116,120,124,128,132,136,140,144,148,152], "grid": true, "labels": false, "ticks": false, "domain": false}},
            "y": {"field": "l", "type": "quantitative", "scale": {"domain": [1.22453, 1.25304], "nice": false, "zero": false},
                  "axis": {"title": null, "orient": "right", "tickCount": 30, "values": [1.2264,1.2283,1.2302,1.2321,1.234,1.2359,1.2378,1.2397,1.2416,1.2435,1.2454,1.2473,1.2492,1.2511], "format": ".5f", "grid": true, "labelOverlap": false}},
            "y2": {"field": "h"}
          }
        },
        {
          "data": {"name": "candles"},
          "mark": {"type": "bar", "size": 4, "stroke": "#000000", "strokeWidth": 1, "clip": true},
          "encoding": {
            "x": {"field": "i", "type": "quantitative"},
            "y": {"field": "o", "type": "quantitative"},
            "y2": {"field": "c"},
            "fill": {"condition": {"test": "datum.c >= datum.o", "value": "#ffffff"}, "value": "#000000"}
          }
        },
        {
          "data": {"values": [{"p": 1.22917}]},
          "mark": {"type": "rule", "color": "#e00000", "strokeWidth": 1},
          "encoding": {
            "y": {"field": "p", "type": "quantitative"}
          }
        },
        {
          "data": {"name": "alligator"},
          "mark": {"type": "line", "strokeWidth": 2, "clip": true},
          "encoding": {
            "x": {"field": "t", "type": "quantitative"},
            "y": {"field": "p", "type": "quantitative"},
            "color": {"field": "s", "type": "nominal", "scale": {"domain": ["jaw", "teeth", "lips"], "range": ["#0b4fd6", "#ff0000", "#32cd32"]}, "legend": null}
          }
        },
        {
          "data": {"name": "fractals"},
          "transform": [{"filter": "datum.k === 'up'"}],
          "mark": {"type": "point", "shape": "M0,-0.8L-1,0.8L0,0.35Z", "size": 121, "filled": true, "color": "#000000", "opacity": 1, "yOffset": -9, "clip": true},
          "encoding": {
            "x": {"field": "i", "type": "quantitative"},
            "y": {"field": "p", "type": "quantitative"}
          }
        },
        {
          "data": {"name": "fractals"},
          "transform": [{"filter": "datum.k === 'up'"}],
          "mark": {"type": "point", "shape": "M0,-0.8L1,0.8L0,0.35Z", "size": 121, "filled": true, "fill": "#eeeeee", "stroke": "#7a7a7a", "strokeWidth": 0.7, "opacity": 1, "yOffset": -9, "clip": true},
          "encoding": {
            "x": {"field": "i", "type": "quantitative"},
            "y": {"field": "p", "type": "quantitative"}
          }
        },
        {
          "data": {"name": "fractals"},
          "transform": [{"filter": "datum.k === 'down'"}],
          "mark": {"type": "point", "shape": "M0,0.8L1,-0.8L0,-0.35Z", "size": 121, "filled": true, "color": "#000000", "opacity": 1, "yOffset": 9, "clip": true},
          "encoding": {
            "x": {"field": "i", "type": "quantitative"},
            "y": {"field": "p", "type": "quantitative"}
          }
        },
        {
          "data": {"name": "fractals"},
          "transform": [{"filter": "datum.k === 'down'"}],
          "mark": {"type": "point", "shape": "M0,0.8L-1,-0.8L0,-0.35Z", "size": 121, "filled": true, "fill": "#eeeeee", "stroke": "#7a7a7a", "strokeWidth": 0.7, "opacity": 1, "yOffset": 9, "clip": true},
          "encoding": {
            "x": {"field": "i", "type": "quantitative"},
            "y": {"field": "p", "type": "quantitative"}
          }
        },
        {
          "data": {"values": [{"i": 139.9, "p": 1.22842}]},
          "mark": {"type": "point", "shape": "M-0.4,-1L0.4,-1L0.4,0.1L0.85,0.1L0,1L-0.85,0.1L-0.4,0.1Z", "size": 400, "filled": true, "fill": "#fff4f4", "stroke": "#ff3030", "strokeWidth": 1.3, "opacity": 1},
          "encoding": {
            "x": {"field": "i", "type": "quantitative"},
            "y": {"field": "p", "type": "quantitative"}
          }
        },
        {
          "data": {"values": [{"p": 1.22917}]},
          "mark": {"type": "rect", "color": "#c80000", "clip": false},
          "encoding": {
            "x": {"datum": 153.3, "type": "quantitative"},
            "x2": {"datum": 158.4},
            "y": {"datum": 1.22955, "type": "quantitative"},
            "y2": {"datum": 1.22879}
          }
        },
        {
          "data": {"values": [{"p": 1.22917}]},
          "mark": {"type": "text", "color": "#ffffff", "align": "center", "baseline": "middle", "fontSize": 9.5, "clip": false},
          "encoding": {
            "x": {"datum": 155.85, "type": "quantitative"},
            "y": {"field": "p", "type": "quantitative"},
            "text": {"field": "p", "type": "quantitative", "format": ".5f"}
          }
        }
      ]
    },
    {
      "width": 1226,
      "height": 101,
      "layer": [
        {
          "data": {"name": "ao"},
          "transform": [
            {"window": [{"op": "lag", "field": "v", "as": "pv"}], "sort": [{"field": "i"}]},
            {"calculate": "datum.pv != null && datum.v > datum.pv ? 'up' : 'down'", "as": "dir"}
          ],
          "mark": {"type": "bar", "size": 4, "clip": true},
          "encoding": {
            "x": {"field": "i", "type": "quantitative", "scale": {"domain": [-0.0625, 153.1875], "nice": false, "zero": false},
                  "axis": {"title": null, "tickCount": 60, "values": [0,4,8,12,16,20,24,28,32,36,40,44,48,52,56,60,64,68,72,76,80,84,88,92,96,100,104,108,112,116,120,124,128,132,136,140,144,148,152], "grid": true, "labels": false, "ticks": false, "domain": false}},
            "y": {"field": "v", "type": "quantitative", "scale": {"domain": [-0.014034, 0.011885], "nice": false, "zero": false},
                  "axis": {"title": null, "orient": "right", "tickCount": 10, "values": [-0.014034, 0, 0.011885], "format": ".6f", "labelFlush": true, "labelOverlap": false, "grid": true,
                           "tickOpacity": {"condition": {"test": "datum.value === 0", "value": 0}, "value": 1},
                           "gridOpacity": {"condition": {"test": "datum.value === 0", "value": 1}, "value": 0}}},
            "color": {"field": "dir", "type": "nominal", "scale": {"domain": ["up", "down"], "range": ["#008000", "#ff0000"]}, "legend": null}
          }
        },
        {
          "data": {"values": [{"label": "AO -0.010470"}]},
          "mark": {"type": "text", "align": "left", "baseline": "middle", "color": "#000000", "fontSize": 9.5},
          "encoding": {
            "x": {"datum": 0.4, "type": "quantitative"},
            "y": {"datum": 0.0096, "type": "quantitative"},
            "text": {"field": "label"}
          }
        }
      ]
    },
    {
      "width": 1226,
      "height": 100,
      "layer": [
        {
          "data": {"name": "ac"},
          "transform": [
            {"window": [{"op": "lag", "field": "v", "as": "pv"}], "sort": [{"field": "i"}]},
            {"calculate": "datum.pv != null && datum.v > datum.pv ? 'up' : 'down'", "as": "dir"}
          ],
          "mark": {"type": "bar", "size": 4, "clip": true},
          "encoding": {
            "x": {"field": "i", "type": "quantitative", "scale": {"domain": [-0.0625, 153.1875], "nice": false, "zero": false},
                  "axis": {"title": null, "tickCount": 60, "values": [0,4,8,12,16,20,24,28,32,36,40,44,48,52,56,60,64,68,72,76,80,84,88,92,96,100,104,108,112,116,120,124,128,132,136,140,144,148,152], "grid": true, "labels": false, "ticks": false, "domain": false}},
            "y": {"field": "v", "type": "quantitative", "scale": {"domain": [-0.0042253, 0.0023846], "nice": false, "zero": false},
                  "axis": {"title": null, "orient": "right", "tickCount": 10, "values": [-0.0042253, 0, 0.0023846], "format": ".7f", "labelFlush": true, "labelOverlap": false, "grid": true,
                           "tickOpacity": {"condition": {"test": "datum.value === 0", "value": 0}, "value": 1},
                           "gridOpacity": {"condition": {"test": "datum.value === 0", "value": 1}, "value": 0}}},
            "color": {"field": "dir", "type": "nominal", "scale": {"domain": ["up", "down"], "range": ["#008000", "#ff0000"]}, "legend": null}
          }
        },
        {
          "data": {"values": [{"label": "AC 0.0008695"}]},
          "mark": {"type": "text", "align": "left", "baseline": "middle", "color": "#000000", "fontSize": 9.5},
          "encoding": {
            "x": {"datum": 0.4, "type": "quantitative"},
            "y": {"datum": 0.00174, "type": "quantitative"},
            "text": {"field": "label"}
          }
        }
      ]
    },
    {
      "width": 1226,
      "height": 84,
      "layer": [
        {
          "data": {"name": "gator"},
          "transform": [
            {"window": [{"op": "lag", "field": "u", "as": "pu"}], "sort": [{"field": "i"}]},
            {"calculate": "datum.pu != null && datum.u > datum.pu ? 'up' : 'down'", "as": "dir"}
          ],
          "mark": {"type": "bar", "size": 4, "clip": true},
          "encoding": {
            "x": {"field": "i", "type": "quantitative", "scale": {"domain": [-0.0625, 153.1875], "nice": false, "zero": false},
                  "axis": {"title": null, "tickCount": 60, "values": [0,4,8,12,16,20,24,28,32,36,40,44,48,52,56,60,64,68,72,76,80,84,88,92,96,100,104,108,112,116,120,124,128,132,136,140,144,148,152], "grid": true, "domain": false, "tickSize": 4, "labelFontSize": 9.5,
                           "tickOpacity": {"condition": {"test": "datum.value % 8 === 0 && datum.value <= 136", "value": 1}, "value": 0},
                           "labelExpr": "datum.value % 8 === 0 && datum.value <= 136 ? ['24 Jan 2025','24 Jan 23:00','27 Jan 07:00','27 Jan 15:00','27 Jan 23:00','28 Jan 07:00','28 Jan 15:00','28 Jan 23:00','29 Jan 07:00','29 Jan 15:00','29 Jan 23:00','30 Jan 07:00','30 Jan 15:00','30 Jan 23:00','31 Jan 07:00','31 Jan 15:00','31 Jan 23:00','3 Feb 07:00'][datum.value / 8] : ''",
                           "labelAlign": "left", "labelBaseline": "top", "labelPadding": 3, "labelOverlap": false, "labelBound": false, "labelFlush": false}},
            "y": {"field": "u", "type": "quantitative", "scale": {"domain": [-0.006239, 0.006445], "nice": false, "zero": false},
                  "axis": {"title": null, "orient": "right", "tickCount": 10, "values": [-0.006239, 0, 0.006445], "format": ".6f", "labelFlush": true, "labelOverlap": false, "grid": true,
                           "tickOpacity": {"condition": {"test": "datum.value === 0", "value": 0}, "value": 1},
                           "gridOpacity": {"condition": {"test": "datum.value === 0", "value": 1}, "value": 0}}},
            "color": {"field": "dir", "type": "nominal", "scale": {"domain": ["up", "down"], "range": ["#008000", "#ff0000"]}, "legend": null}
          }
        },
        {
          "data": {"name": "gator"},
          "transform": [
            {"filter": "datum.d != null"},
            {"window": [{"op": "lag", "field": "d", "as": "pd"}], "sort": [{"field": "i"}]},
            {"calculate": "datum.pd != null && abs(datum.d) > abs(datum.pd) ? 'up' : 'down'", "as": "dir"}
          ],
          "mark": {"type": "bar", "size": 4, "clip": true},
          "encoding": {
            "x": {"field": "i", "type": "quantitative"},
            "y": {"field": "d", "type": "quantitative"},
            "color": {"field": "dir", "type": "nominal"}
          }
        },
        {
          "data": {"values": [{"z": 0}]},
          "mark": {"type": "rule", "color": "#e6e6e6", "strokeDash": [3, 3], "strokeWidth": 1},
          "encoding": {
            "y": {"field": "z", "type": "quantitative"}
          }
        },
        {
          "data": {"values": [{"label": "Gator(13,8,5) 0.004431 0.000000"}]},
          "mark": {"type": "text", "align": "left", "baseline": "middle", "color": "#000000", "fontSize": 9.5},
          "encoding": {
            "x": {"datum": 0.4, "type": "quantitative"},
            "y": {"datum": 0.00502, "type": "quantitative"},
            "text": {"field": "label"}
          }
        }
      ]
    }
  ]
}
